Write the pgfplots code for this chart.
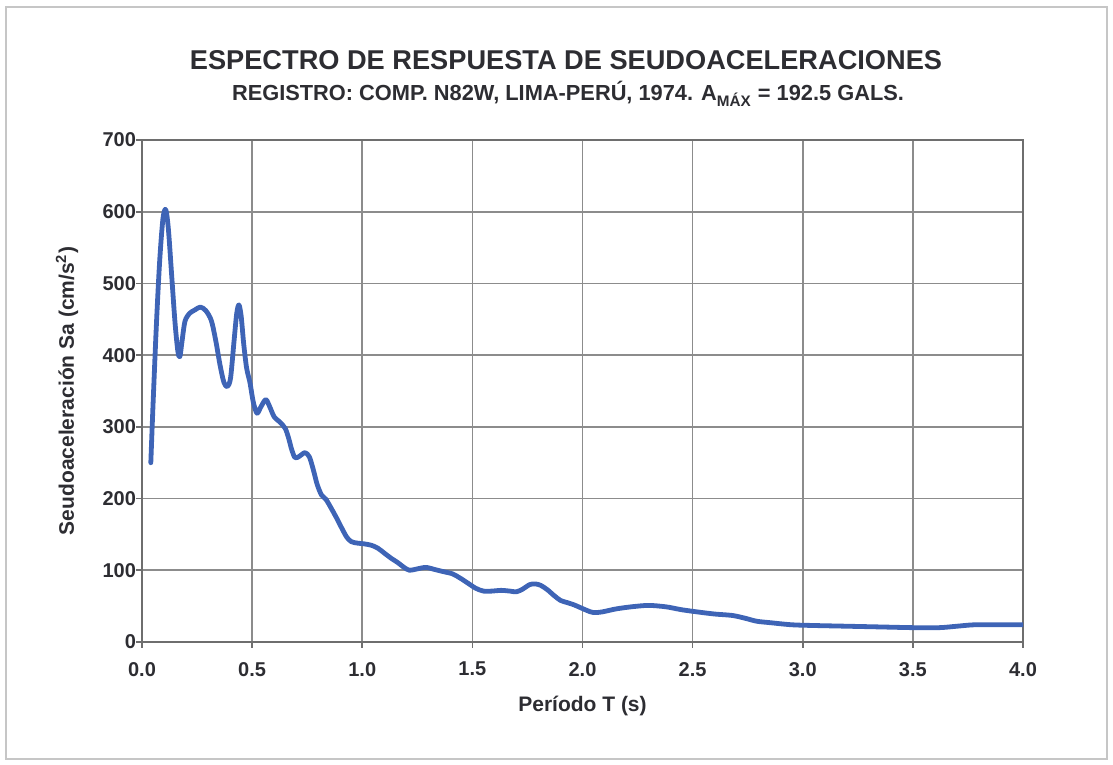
\documentclass[border=0pt]{standalone}
\usepackage{pgfplots}
\pgfplotsset{compat=1.18}
\usepackage{fontspec}
\setmainfont{Liberation Sans}

\definecolor{curveblue}{RGB}{62,100,182}
\definecolor{gridgray}{RGB}{140,140,140}
\definecolor{axisgray}{RGB}{110,110,110}
\definecolor{textgray}{RGB}{45,45,50}

% Pseudo-acceleration response spectrum, N82W component, Lima 1974
\pgfplotstableread{
T      Sa
0.040  250
0.050  330
0.065  440
0.080  530
0.095  590
0.108  603
0.120  575
0.135  510
0.150  445
0.163  405
0.172  398
0.182  420
0.195  447
0.215  458
0.240  463
0.265  467
0.290  462
0.315  448
0.335  420
0.355  385
0.372  362
0.387  356
0.402  368
0.418  420
0.430  458
0.440  470
0.450  455
0.462  415
0.475  382
0.490  362
0.505  335
0.522  319
0.540  328
0.562  338
0.580  328
0.600  314
0.625  307
0.650  298
0.665  285
0.680  268
0.695  257
0.715  259
0.740  264
0.760  258
0.778  240
0.795  220
0.815  205
0.835  199
0.860  186
0.885  172
0.910  157
0.930  146
0.950  140
0.975  138
1.005  137
1.040  135
1.070  131
1.100  124
1.130  117
1.160  111
1.190  104
1.215  100
1.250  102
1.290  104
1.330  101
1.370  98
1.410  95
1.445  89
1.480  82
1.515  75
1.550  71
1.590  71
1.630  72
1.670  71
1.700  70
1.730  74
1.760  80
1.785  81
1.810  79
1.840  73
1.870  65
1.900  58
1.930  55
1.960  52
1.990  48
2.020  44
2.050  41
2.090  42
2.150  46
2.220  49
2.300  51
2.380  49
2.450  45
2.520  42
2.600  39
2.680  37
2.740  33
2.790  29
2.850  27
2.950  24
3.050  23
3.200  22
3.350  21
3.500  20
3.620  20
3.700  22
3.780  24
3.900  24
4.000  24
}\spectrum

\begin{document}
\begin{tikzpicture}
% page area and outer chart frame
\path (0,0) rectangle (556.5pt,382.5pt);
\draw[gray!45, line width=0.7pt] (3pt,3pt) rectangle (553.5pt,379pt);

\begin{axis}[
  at={(71pt,61.5pt)}, anchor=south west,
  scale only axis, width=440.5pt, height=251pt,
  xmin=0, xmax=4, ymin=0, ymax=700,
  xtick={0,0.5,1,1.5,2,2.5,3,3.5,4},
  ytick={0,100,200,300,400,500,600,700},
  xtick pos=bottom, ytick pos=left,
  tick align=outside, major tick length=3pt,
  tick style={axisgray, line width=0.8pt},
  grid=major,
  major grid style={gridgray, line width=0.8pt},
  axis line style={axisgray, line width=0.9pt},
  ticklabel style={font=\bfseries\fontsize{10}{11}\selectfont, text=textgray},
  /pgf/number format/assume math mode=true,
  xticklabel style={yshift=-3.5pt, /pgf/number format/.cd, fixed, fixed zerofill, precision=1},
  yticklabel style={xshift=3.5pt, /pgf/number format/.cd, fixed, precision=0},
  xlabel={Período T (s)},
  ylabel={Seudoaceleración Sa (cm/s\textsuperscript{2})},
  label style={font=\bfseries\fontsize{10.5}{12}\selectfont, text=textgray},
  xlabel style={at={(axis description cs:0.5,-0.1394)}, anchor=base},
  ylabel style={at={(axis description cs:-0.0851,0.5)}, anchor=center},
]
\addplot[curveblue, line width=2.4pt, smooth, line join=round, line cap=round]
  table[x=T, y=Sa]{\spectrum};
\end{axis}

\node[anchor=base, text=textgray, font=\bfseries\fontsize{13.6}{16}\selectfont]
  at (283pt,347.5pt) {ESPECTRO DE RESPUESTA DE SEUDOACELERACIONES};
\node[anchor=base, text=textgray, font=\bfseries\fontsize{10.9}{12}\selectfont]
  at (284pt,332pt) {REGISTRO: COMP. N82W, LIMA-PERÚ, 1974. A\textsubscript{MÁX} = 192.5 GALS.};
\end{tikzpicture}
\end{document}
